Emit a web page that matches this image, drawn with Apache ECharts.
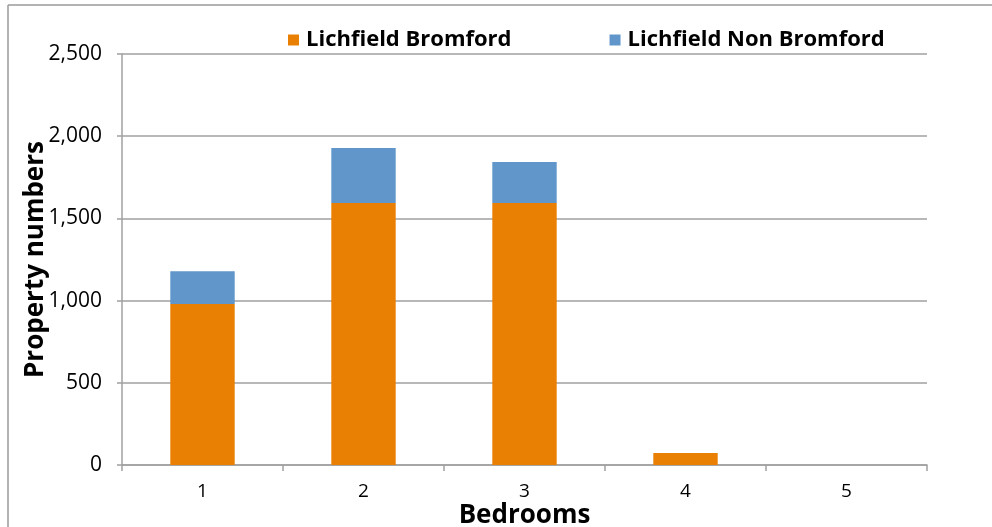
<!DOCTYPE html>
<html><head><meta charset="utf-8">
<script src="https://cdn.jsdelivr.net/npm/echarts@6/dist/echarts.min.js"></script>
<style>html,body{margin:0;padding:0;background:#fff}#c{width:992px;height:527px}</style>
</head><body><div id="c"></div>
<script>
var categories = ['1', '2', '3', '4', '5'];
var bromford = [979, 1594, 1594, 73, 0];
var nonBromford = [200, 334, 249, 0, 0];
var yTicks = [0, 500, 1000, 1500, 2000, 2500];

var chart = echarts.init(document.getElementById('c'));
var font = '"Open Sans", "Liberation Sans", sans-serif';
chart.setOption({
  animation: false,
  backgroundColor: '#fff',
  graphic: [
    {type: 'line', shape: {x1: 8, y1: 5, x2: 992, y2: 5}, style: {stroke: '#9a9a9a', lineWidth: 1.5}},
    {type: 'line', shape: {x1: 8, y1: 5, x2: 8, y2: 527}, style: {stroke: '#9a9a9a', lineWidth: 1.5}}
  ],
  legend: {
    top: 24, left: 283, itemGap: 98, itemWidth: 11, itemHeight: 11,
    icon: 'rect',
    textStyle: {fontFamily: font, fontWeight: 'bold', fontSize: 22, color: '#000', padding: [0,0,0,2]},
    data: ['Lichfield Bromford', 'Lichfield Non Bromford']
  },
  grid: {left: 122, right: 65, top: 54, bottom: 62, outerBoundsMode: 'none'},
  xAxis: {
    type: 'category', data: categories,
    name: 'Bedrooms', nameLocation: 'middle', nameGap: 38, nameMoveOverlap: false,
    nameTextStyle: {fontFamily: font, fontWeight: 'bold', fontSize: 26, color: '#000'},
    axisLine: {lineStyle: {color: '#a0a0a0', width: 1.5}},
    axisTick: {show: true, length: 6, lineStyle: {color: '#a0a0a0', width: 1.5}},
    axisLabel: {fontFamily: font, fontSize: 19, color: '#000', margin: 17}
  },
  yAxis: {
    type: 'value', min: yTicks[0], max: yTicks[yTicks.length - 1], interval: 500,
    name: 'Property numbers', nameLocation: 'middle', nameGap: 73, nameMoveOverlap: false,
    nameTextStyle: {fontFamily: font, fontWeight: 'bold', fontSize: 26, color: '#000'},
    axisLine: {show: true, lineStyle: {color: '#a0a0a0', width: 1.5}},
    axisTick: {show: true, length: 5, lineStyle: {color: '#a0a0a0', width: 1.5}},
    splitLine: {lineStyle: {color: '#a0a0a0', width: 1.5}},
    axisLabel: {fontFamily: font, fontSize: 21, color: '#000', margin: 20,
      formatter: function (v) { return v.toLocaleString('en-US'); }}
  },
  series: [
    {name: 'Lichfield Bromford', type: 'bar', stack: 'a', data: bromford, barWidth: '40%',
     itemStyle: {color: '#EA8003'}},
    {name: 'Lichfield Non Bromford', type: 'bar', stack: 'a', data: nonBromford, barWidth: '40%',
     itemStyle: {color: '#6096CA'}}
  ]
});
</script></body></html>
